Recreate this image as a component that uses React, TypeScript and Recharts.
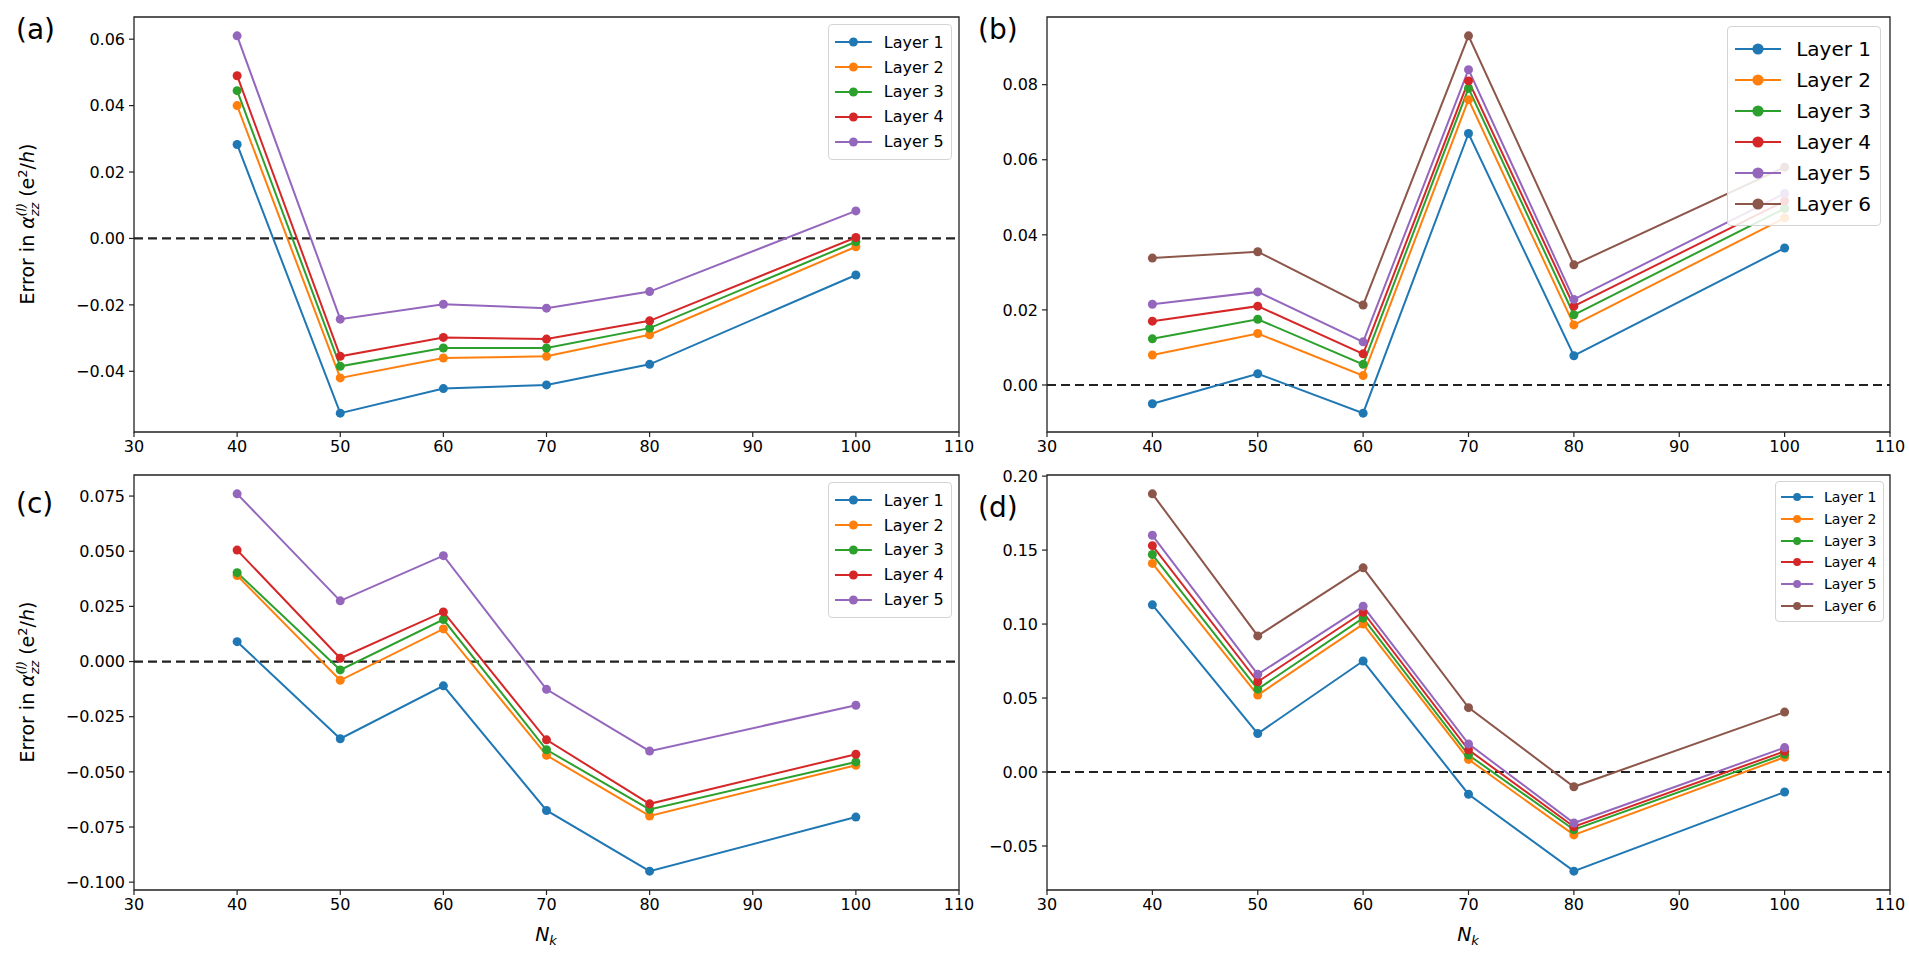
import React from "react";
import { LineChart, Line, XAxis, YAxis, ReferenceLine, ReferenceArea } from "recharts";

// N_k values sampled in every panel
const nk = [40, 50, 60, 70, 80, 100];
const xTicks = [30, 40, 50, 60, 70, 80, 90, 100, 110];
const layerNames = ["Layer 1", "Layer 2", "Layer 3", "Layer 4", "Layer 5", "Layer 6"];
const colors = ["#1f77b4", "#ff7f0e", "#2ca02c", "#d62728", "#9467bd", "#8c564b"];

// rows = layers, columns = nk
const errA = [
  [0.0283, -0.0526, -0.0452, -0.0441, -0.0379, -0.011],
  [0.04, -0.042, -0.036, -0.0355, -0.029, -0.0025],
  [0.0445, -0.0385, -0.033, -0.033, -0.027, -0.001],
  [0.049, -0.0355, -0.0298, -0.0303, -0.0248, 0.0003],
  [0.061, -0.0243, -0.0198, -0.021, -0.016, 0.0083],
];
const errB = [
  [-0.005, 0.003, -0.0075, 0.067, 0.0078, 0.0365],
  [0.008, 0.0137, 0.0025, 0.076, 0.016, 0.0445],
  [0.0123, 0.0175, 0.0055, 0.079, 0.0187, 0.047],
  [0.017, 0.021, 0.0083, 0.081, 0.021, 0.049],
  [0.0215, 0.0248, 0.0115, 0.084, 0.0228, 0.051],
  [0.0338, 0.0355, 0.0213, 0.093, 0.032, 0.058],
];
const errC = [
  [0.009, -0.035, -0.011, -0.0675, -0.095, -0.0705],
  [0.039, -0.0085, 0.0148, -0.0425, -0.07, -0.047],
  [0.0403, -0.0038, 0.019, -0.04, -0.067, -0.0455],
  [0.0505, 0.0015, 0.0225, -0.0355, -0.0645, -0.042],
  [0.076, 0.0275, 0.048, -0.0126, -0.0406, -0.0198],
];
const errD = [
  [0.113, 0.026, 0.075, -0.015, -0.067, -0.0135],
  [0.141, 0.052, 0.1, 0.0085, -0.0425, 0.01],
  [0.147, 0.056, 0.104, 0.0115, -0.039, 0.012],
  [0.153, 0.061, 0.108, 0.015, -0.037, 0.014],
  [0.16, 0.066, 0.112, 0.019, -0.0345, 0.0165],
  [0.188, 0.092, 0.138, 0.0435, -0.01, 0.0405],
];

const yTicksA = [-0.04, -0.02, 0, 0.02, 0.04, 0.06];
const yTicksB = [0, 0.02, 0.04, 0.06, 0.08];
const yTicksC = [-0.1, -0.075, -0.05, -0.025, 0, 0.025, 0.05, 0.075];
const yTicksD = [-0.05, 0, 0.05, 0.1, 0.15, 0.2];

const FONT = "DejaVu Sans, sans-serif";
const INK = "#222";

const fmt = (digits: number) => (v: number) => {
  const s = Math.abs(v).toFixed(digits);
  return v < -1e-9 ? "\u2212" + s : s;
};

type PanelCfg = {
  tag: string;
  err: number[][];
  yTicks: number[];
  digits: number;
  left: number;
  top: number;
  width: number;
  height: number;
  x0: number;
  x1: number;
  y0: number;
  y1: number;
  legendFont: number;
  tagX: number;
  tagY: number;
};

const Y_AXIS_W = 70;
const X_AXIS_H = 34;

function Legend({ names, font, right, top }: { names: string[]; font: number; right: number; top: number }) {
  const handle = 2.3 * font;
  return (
    <div
      style={{
        position: "absolute",
        right,
        top,
        border: "1px solid #d4d4d4",
        borderRadius: 4,
        background: "rgba(255,255,255,0.85)",
        padding: `${0.3 * font}px ${0.45 * font}px ${0.3 * font}px ${0.35 * font}px`,
        fontFamily: FONT,
        fontSize: font,
        color: "#000",
      }}
    >
      {names.map((n, i) => (
        <div key={n} style={{ display: "flex", alignItems: "center", height: 1.55 * font }}>
          <svg width={handle} height={font} style={{ display: "block" }}>
            <line x1={0} x2={handle} y1={font / 2} y2={font / 2} stroke={colors[i]} strokeWidth={2} />
            <circle cx={handle / 2} cy={font / 2} r={Math.max(3.8, font * 0.28)} fill={colors[i]} />
          </svg>
          <span style={{ marginLeft: 0.75 * font, whiteSpace: "nowrap" }}>{n}</span>
        </div>
      ))}
    </div>
  );
}

function Panel({ cfg }: { cfg: PanelCfg }) {
  const names = layerNames.slice(0, cfg.err.length);
  const rows = nk.map((n, j) => {
    const r: Record<string, number> = { nk: n };
    cfg.err.forEach((layer, i) => (r[names[i]] = layer[j]));
    return r;
  });
  const all = cfg.err.flat();
  const lo = Math.min(...all);
  const hi = Math.max(...all);
  const pad = (hi - lo) * 0.05;
  const domain: [number, number] = [lo - pad, hi + pad];

  const margin = {
    left: cfg.x0 - cfg.left - Y_AXIS_W,
    right: cfg.left + cfg.width - cfg.x1,
    top: cfg.y0 - cfg.top,
    bottom: cfg.top + cfg.height - cfg.y1 - X_AXIS_H,
  };

  return (
    <>
      <div style={{ position: "absolute", left: cfg.left, top: cfg.top }}>
        <LineChart width={cfg.width} height={cfg.height} data={rows} margin={margin}>
          <XAxis
            dataKey="nk"
            type="number"
            domain={[30, 110]}
            ticks={xTicks}
            height={X_AXIS_H}
            axisLine={false}
            tickLine={{ stroke: INK, strokeWidth: 1.2 }}
            tickSize={5}
            tickMargin={4}
            tick={{ fontSize: 16, fill: "#000", fontFamily: FONT }}
            allowDataOverflow
          />
          <YAxis
            type="number"
            domain={domain}
            ticks={cfg.yTicks}
            tickFormatter={fmt(cfg.digits)}
            width={Y_AXIS_W}
            axisLine={false}
            tickLine={{ stroke: INK, strokeWidth: 1.2 }}
            tickSize={5}
            tickMargin={4}
            tick={{ fontSize: 16, fill: "#000", fontFamily: FONT }}
            allowDataOverflow
          />
          <ReferenceLine y={0} stroke={INK} strokeWidth={2.2} strokeDasharray="9 5" />
          {names.map((n, i) => (
            <Line
              key={n}
              dataKey={n}
              stroke={colors[i]}
              strokeWidth={2}
              dot={{ r: 4.5, fill: colors[i], stroke: colors[i], strokeWidth: 0 }}
              activeDot={false}
              isAnimationActive={false}
            />
          ))}
          <ReferenceArea
            x1={30}
            x2={110}
            y1={domain[0]}
            y2={domain[1]}
            fill="none"
            stroke={INK}
            strokeWidth={1.3}
            ifOverflow="visible"
          />
        </LineChart>
      </div>
      <Legend
        names={names}
        font={cfg.legendFont}
        right={1909 - cfg.x1 + 0.45 * cfg.legendFont}
        top={cfg.y0 + 0.45 * cfg.legendFont}
      />
      <div
        style={{
          position: "absolute",
          left: cfg.tagX,
          top: cfg.tagY,
          fontFamily: FONT,
          fontSize: 28,
          color: "#000",
          lineHeight: 1,
        }}
      >
        {cfg.tag}
      </div>
    </>
  );
}

function YTitle({ cx, cy }: { cx: number; cy: number }) {
  return (
    <svg style={{ position: "absolute", left: 0, top: 0 }} width={120} height={957}>
      <text
        x={cx}
        y={cy}
        transform={`rotate(-90 ${cx} ${cy})`}
        textAnchor="middle"
        fontFamily={FONT}
        fontSize={19}
        fill="#000"
      >
        <tspan>Error in </tspan>
        <tspan fontStyle="italic">α</tspan>
        <tspan fontSize={13} fontStyle="italic" dy={5}>zz</tspan>
        <tspan fontSize={13} fontStyle="italic" dx={-14} dy={-13}>(l)</tspan>
        <tspan dy={8}> (e</tspan>
        <tspan fontSize={13} dy={-7}>2</tspan>
        <tspan dy={7}>/</tspan>
        <tspan fontStyle="italic">h</tspan>
        <tspan>)</tspan>
      </text>
    </svg>
  );
}

function XTitle({ cx, cy }: { cx: number; cy: number }) {
  return (
    <svg style={{ position: "absolute", left: cx - 40, top: cy - 20 }} width={80} height={40}>
      <text x={40} y={26} textAnchor="middle" fontFamily={FONT} fontSize={19} fill="#000">
        <tspan fontStyle="italic">N</tspan>
        <tspan fontStyle="italic" fontSize={13} dy={4}>k</tspan>
      </text>
    </svg>
  );
}

const panels: PanelCfg[] = [
  { tag: "(a)", err: errA, yTicks: yTicksA, digits: 2, left: 0, top: 0, width: 975, height: 470,
    x0: 134, x1: 959, y0: 17, y1: 432, legendFont: 16, tagX: 16, tagY: 16 },
  { tag: "(b)", err: errB, yTicks: yTicksB, digits: 2, left: 975, top: 0, width: 934, height: 470,
    x0: 1047, x1: 1890, y0: 17, y1: 432, legendFont: 20, tagX: 978, tagY: 16 },
  { tag: "(c)", err: errC, yTicks: yTicksC, digits: 3, left: 0, top: 450, width: 975, height: 480,
    x0: 134, x1: 959, y0: 475, y1: 890, legendFont: 16, tagX: 16, tagY: 490 },
  { tag: "(d)", err: errD, yTicks: yTicksD, digits: 2, left: 975, top: 450, width: 934, height: 480,
    x0: 1047, x1: 1890, y0: 475, y1: 890, legendFont: 14, tagX: 978, tagY: 494 },
];

export default function App() {
  return (
    <div style={{ position: "absolute", left: 0, top: 0, width: 1909, height: 957, background: "#fff" }}>
      {panels.map((p) => (
        <Panel key={p.tag} cfg={p} />
      ))}
      <YTitle cx={34} cy={224} />
      <YTitle cx={34} cy={682} />
      <XTitle cx={546} cy={935} />
      <XTitle cx={1468} cy={935} />
    </div>
  );
}
